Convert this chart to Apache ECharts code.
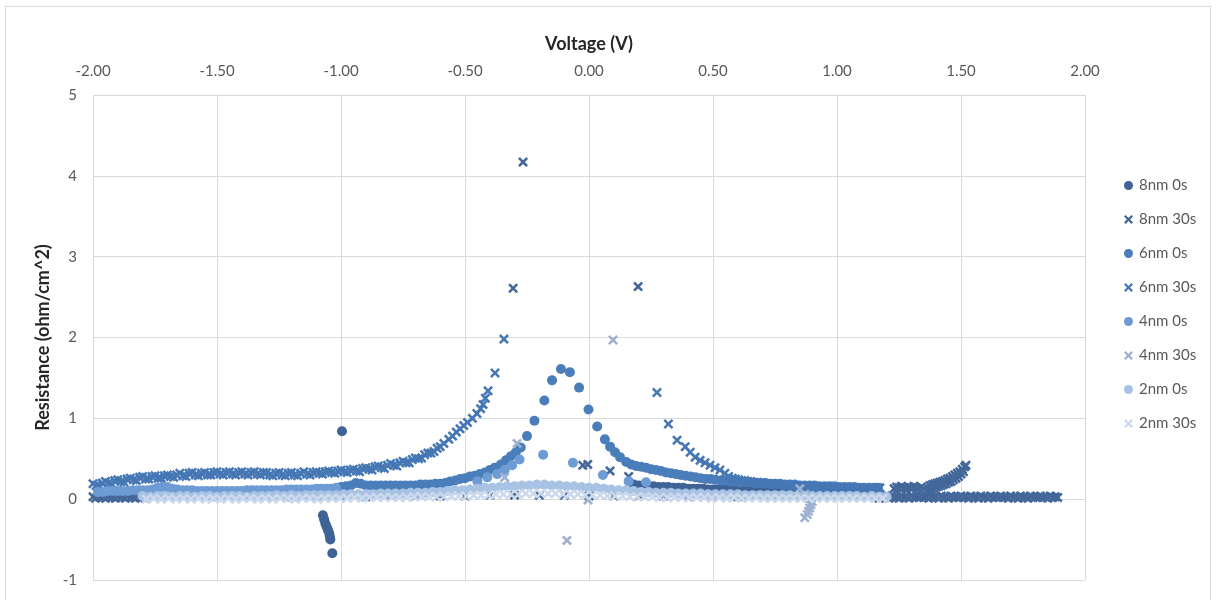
<!DOCTYPE html>
<html>
<head>
<meta charset="utf-8">
<title>Resistance vs Voltage</title>
<script src="https://cdn.jsdelivr.net/npm/echarts@6/dist/echarts.min.js"></script>
<style>
  html, body { margin: 0; padding: 0; background: #ffffff; }
  #chart { width: 1216px; height: 600px; }
</style>
</head>
<body>
<div id="chart"></div>
<script>
// Series names (legend order)
const seriesNames = ['8nm 0s', '8nm 30s', '6nm 0s', '6nm 30s', '4nm 0s', '4nm 30s', '2nm 0s', '2nm 30s'];

// Axis ticks
const voltageTicks = { min: -2, max: 2, step: 0.5 };
const resistanceTicks = { min: -1, max: 5, step: 1 };

// [voltage (V), resistance (ohm/cm^2)] pairs for each sweep
const n8s0 = [
  [-0.996, 0.84],
  [-1.073, -0.20], [-1.068, -0.25], [-1.063, -0.30], [-1.058, -0.34], [-1.053, -0.38],
  [-1.048, -0.42], [-1.045, -0.46], [-1.043, -0.50], [-1.035, -0.67],
  [0.18, 0.18], [0.20, 0.17], [0.22, 0.17], [0.24, 0.16], [0.26, 0.16], [0.28, 0.15],
  [0.30, 0.15], [0.32, 0.15], [0.34, 0.14], [0.36, 0.14], [0.38, 0.14], [0.40, 0.13],
  [0.42, 0.13], [0.44, 0.13], [0.46, 0.13], [0.48, 0.12], [0.50, 0.12], [0.52, 0.12],
  [0.54, 0.12], [0.56, 0.12], [0.58, 0.11], [0.60, 0.11], [0.62, 0.11], [0.64, 0.11],
  [0.66, 0.11], [0.68, 0.11], [0.70, 0.10], [0.72, 0.10], [0.74, 0.10], [0.76, 0.10],
  [0.78, 0.10], [0.80, 0.10], [0.82, 0.10], [0.84, 0.10], [0.86, 0.09], [0.88, 0.09],
  [0.90, 0.09], [0.92, 0.09], [0.94, 0.09], [0.96, 0.09], [0.98, 0.09], [1.00, 0.09],
  [1.02, 0.09], [1.04, 0.09], [1.06, 0.09], [1.08, 0.09], [1.10, 0.09], [1.12, 0.09],
  [1.14, 0.09], [1.16, 0.09]
];

const n8s30 = [
  [-2.00, 0.03], [-1.99, 0.01], [-1.98, 0.04], [-1.97, 0.02], [-1.96, 0.03], [-1.95, 0.01],
  [-1.94, 0.04], [-1.93, 0.02], [-1.92, 0.03], [-1.91, 0.01], [-1.90, 0.04], [-1.89, 0.02],
  [-1.88, 0.03], [-1.87, 0.01], [-1.86, 0.04], [-1.85, 0.02], [-1.84, 0.03], [-1.83, 0.01],
  [-1.82, 0.04], [-1.81, 0.02], [-1.80, 0.03], [-1.79, 0.01], [-1.78, 0.04],
  [-1.70, 0.03], [-1.60, 0.03], [-1.50, 0.03], [-1.40, 0.03], [-1.30, 0.03], [-1.20, 0.03],
  [-1.10, 0.03], [-1.00, 0.03], [-0.90, 0.03], [-0.80, 0.04], [-0.70, 0.04], [-0.60, 0.04],
  [-0.50, 0.04], [-0.40, 0.05], [-0.30, 0.05], [-0.20, 0.05], [-0.10, 0.05], [0.00, 0.04],
  [0.10, 0.04], [0.20, 0.04], [0.30, 0.04], [0.40, 0.03], [0.50, 0.03], [0.60, 0.03],
  [0.70, 0.03], [0.80, 0.03], [0.90, 0.03], [1.00, 0.03], [1.10, 0.03],
  [1.16, 0.03], [1.17, 0.01], [1.18, 0.04], [1.19, 0.02], [1.20, 0.03], [1.21, 0.01],
  [1.22, 0.04], [1.23, 0.02], [1.24, 0.03], [1.25, 0.01], [1.26, 0.04], [1.27, 0.02],
  [1.28, 0.03], [1.29, 0.01], [1.30, 0.04], [1.31, 0.02], [1.32, 0.03], [1.33, 0.02],
  [1.34, 0.04], [1.35, 0.02], [1.36, 0.03], [1.37, 0.01], [1.38, 0.04], [1.39, 0.02],
  [1.40, 0.03], [1.41, 0.01], [1.42, 0.04], [1.43, 0.02], [1.44, 0.03], [1.45, 0.01],
  [1.46, 0.04], [1.47, 0.02], [1.48, 0.03], [1.49, 0.02], [1.50, 0.04], [1.51, 0.02],
  [1.52, 0.03], [1.53, 0.01], [1.54, 0.04], [1.55, 0.02], [1.56, 0.03], [1.57, 0.01],
  [1.58, 0.04], [1.59, 0.02], [1.60, 0.03], [1.61, 0.01], [1.62, 0.04], [1.63, 0.02],
  [1.64, 0.03], [1.65, 0.02], [1.66, 0.04], [1.67, 0.02], [1.68, 0.03], [1.69, 0.01],
  [1.70, 0.04], [1.71, 0.02], [1.72, 0.03], [1.73, 0.01], [1.74, 0.04], [1.75, 0.02],
  [1.76, 0.03], [1.77, 0.01], [1.78, 0.04], [1.79, 0.02], [1.80, 0.03], [1.81, 0.02],
  [1.82, 0.04], [1.83, 0.02], [1.84, 0.03], [1.85, 0.01], [1.86, 0.04], [1.87, 0.02],
  [1.88, 0.03], [1.89, 0.02],
  [-0.266, 4.17], [-0.306, 2.61], [0.198, 2.63],
  [-0.025, 0.42], [-0.005, 0.43], [0.085, 0.35], [0.16, 0.28],
  [1.23, 0.13], [1.24, 0.15], [1.25, 0.14], [1.26, 0.16], [1.27, 0.14], [1.28, 0.13],
  [1.29, 0.15], [1.30, 0.14], [1.31, 0.16], [1.32, 0.14], [1.33, 0.13], [1.34, 0.15], [1.35, 0.13],
  [1.375, 0.17], [1.385, 0.18], [1.395, 0.19], [1.405, 0.20], [1.415, 0.21], [1.425, 0.22],
  [1.435, 0.23], [1.445, 0.25], [1.455, 0.26], [1.465, 0.28], [1.475, 0.30], [1.485, 0.32],
  [1.495, 0.34], [1.505, 0.37], [1.515, 0.40], [1.52, 0.42],
  [1.37, 0.12], [1.38, 0.13], [1.39, 0.14], [1.40, 0.15], [1.41, 0.16], [1.42, 0.17],
  [1.43, 0.18], [1.44, 0.19], [1.45, 0.21], [1.46, 0.22], [1.47, 0.24], [1.48, 0.26],
  [1.49, 0.28], [1.50, 0.31], [1.51, 0.34]
];

const n6s0 = [
  [-1.00, 0.15], [-0.98, 0.16], [-0.96, 0.17], [-0.94, 0.20], [-0.92, 0.19], [-0.90, 0.17],
  [-0.88, 0.17], [-0.86, 0.17], [-0.84, 0.17], [-0.82, 0.17], [-0.80, 0.17], [-0.78, 0.17],
  [-0.76, 0.17], [-0.74, 0.17], [-0.72, 0.17], [-0.70, 0.17], [-0.68, 0.18], [-0.66, 0.18],
  [-0.64, 0.18], [-0.62, 0.19], [-0.60, 0.19], [-0.58, 0.20], [-0.56, 0.22], [-0.54, 0.23],
  [-0.52, 0.25], [-0.50, 0.26], [-0.48, 0.28], [-0.46, 0.29], [-0.44, 0.31], [-0.42, 0.33],
  [-0.40, 0.36], [-0.38, 0.39], [-0.355, 0.43], [-0.335, 0.48], [-0.315, 0.53], [-0.295, 0.58],
  [-0.275, 0.64], [-0.25, 0.78], [-0.22, 0.97], [-0.18, 1.22], [-0.149, 1.47], [-0.113, 1.61],
  [-0.077, 1.57], [-0.040, 1.38], [-0.002, 1.11], [0.033, 0.90], [0.064, 0.74], [0.085, 0.65],
  [0.105, 0.58], [0.125, 0.52],
  [0.15, 0.46], [0.17, 0.43], [0.19, 0.41], [0.21, 0.40], [0.23, 0.39], [0.25, 0.37],
  [0.27, 0.36], [0.29, 0.35], [0.31, 0.33], [0.33, 0.32], [0.35, 0.31], [0.37, 0.30],
  [0.39, 0.29], [0.41, 0.28], [0.43, 0.27], [0.45, 0.26], [0.47, 0.25], [0.49, 0.25],
  [0.51, 0.24], [0.53, 0.23], [0.55, 0.23], [0.57, 0.22], [0.59, 0.22], [0.61, 0.21],
  [0.63, 0.21], [0.65, 0.21], [0.67, 0.20], [0.69, 0.20], [0.71, 0.20], [0.73, 0.19],
  [0.75, 0.19], [0.77, 0.19], [0.79, 0.18], [0.81, 0.18], [0.83, 0.18], [0.85, 0.17],
  [0.87, 0.17], [0.89, 0.17], [0.91, 0.17], [0.93, 0.16], [0.95, 0.16], [0.97, 0.16],
  [0.99, 0.16], [1.01, 0.15], [1.03, 0.15], [1.05, 0.15], [1.07, 0.15], [1.09, 0.14],
  [1.11, 0.14], [1.13, 0.14], [1.15, 0.14], [1.165, 0.14]
];

const n6s30 = [
  [-2.0000, 0.19], [-1.9875, 0.17], [-1.9750, 0.17], [-1.9625, 0.20], [-1.9500, 0.22], [-1.9375, 0.20],
  [-1.9250, 0.19], [-1.9125, 0.23], [-1.9000, 0.24], [-1.8875, 0.22], [-1.8750, 0.21], [-1.8625, 0.25],
  [-1.8500, 0.26], [-1.8375, 0.24], [-1.8250, 0.23], [-1.8125, 0.27], [-1.8000, 0.28], [-1.7875, 0.25],
  [-1.7750, 0.25], [-1.7625, 0.28], [-1.7500, 0.29], [-1.7375, 0.26], [-1.7250, 0.26], [-1.7125, 0.29],
  [-1.7000, 0.30], [-1.6875, 0.28], [-1.6750, 0.27], [-1.6625, 0.30], [-1.6500, 0.32], [-1.6375, 0.29],
  [-1.6250, 0.28], [-1.6125, 0.32], [-1.6000, 0.33], [-1.5875, 0.30], [-1.5750, 0.29], [-1.5625, 0.32],
  [-1.5500, 0.33], [-1.5375, 0.30], [-1.5250, 0.30], [-1.5125, 0.33], [-1.5000, 0.34], [-1.4875, 0.31],
  [-1.4750, 0.30], [-1.4625, 0.33], [-1.4500, 0.34], [-1.4375, 0.31], [-1.4250, 0.30], [-1.4125, 0.33],
  [-1.4000, 0.34], [-1.3875, 0.31], [-1.3750, 0.30], [-1.3625, 0.33], [-1.3500, 0.34], [-1.3375, 0.31],
  [-1.3250, 0.30], [-1.3125, 0.33], [-1.3000, 0.33], [-1.2875, 0.30], [-1.2750, 0.29], [-1.2625, 0.32],
  [-1.2500, 0.33], [-1.2375, 0.30], [-1.2250, 0.29], [-1.2125, 0.32], [-1.2000, 0.33], [-1.1875, 0.30],
  [-1.1750, 0.29], [-1.1625, 0.32], [-1.1500, 0.34], [-1.1375, 0.31], [-1.1250, 0.30], [-1.1125, 0.33],
  [-1.1000, 0.34], [-1.0875, 0.32], [-1.0750, 0.31], [-1.0625, 0.34], [-1.0500, 0.35], [-1.0375, 0.33],
  [-1.0250, 0.32], [-1.0125, 0.35], [-1.0000, 0.36], [-0.9875, 0.34], [-0.9750, 0.33], [-0.9625, 0.36],
  [-0.9500, 0.37], [-0.9375, 0.35], [-0.9250, 0.34], [-0.9125, 0.38], [-0.9000, 0.39], [-0.8875, 0.37],
  [-0.8750, 0.36], [-0.8625, 0.40], [-0.8500, 0.41], [-0.8375, 0.39], [-0.8250, 0.38], [-0.8125, 0.42],
  [-0.8000, 0.44], [-0.7875, 0.42], [-0.7750, 0.41], [-0.7625, 0.45], [-0.7500, 0.47], [-0.7375, 0.45],
  [-0.7250, 0.45], [-0.7125, 0.49], [-0.7000, 0.51], [-0.6875, 0.50], [-0.6750, 0.51], [-0.6625, 0.55],
  [-0.6500, 0.57], [-0.6375, 0.57], [-0.6250, 0.59], [-0.6125, 0.63], [-0.6000, 0.65],
  [-0.585, 0.69], [-0.565, 0.74], [-0.550, 0.78], [-0.535, 0.83], [-0.520, 0.87], [-0.505, 0.91],
  [-0.490, 0.95], [-0.470, 1.00], [-0.452, 1.06], [-0.437, 1.12], [-0.427, 1.17], [-0.418, 1.25],
  [-0.407, 1.34], [-0.379, 1.56], [-0.343, 1.98],
  [0.274, 1.32], [0.320, 0.93], [0.355, 0.73], [0.388, 0.65], [0.408, 0.58], [0.428, 0.52],
  [0.448, 0.48], [0.468, 0.45], [0.488, 0.42], [0.508, 0.39], [0.528, 0.36], [0.548, 0.32],
  [0.563, 0.28], [0.578, 0.26], [0.590, 0.25], [0.603, 0.24], [0.615, 0.23], [0.628, 0.23],
  [0.640, 0.22], [0.653, 0.22], [0.665, 0.21], [0.678, 0.21], [0.690, 0.20], [0.703, 0.20],
  [0.715, 0.19], [0.728, 0.19], [0.740, 0.19], [0.753, 0.18], [0.765, 0.18], [0.778, 0.18],
  [0.790, 0.17], [0.803, 0.17], [0.815, 0.17], [0.828, 0.17], [0.840, 0.16], [0.853, 0.16],
  [0.865, 0.16], [0.878, 0.16], [0.890, 0.16], [0.903, 0.15], [0.915, 0.15], [0.928, 0.15],
  [0.940, 0.15], [0.953, 0.15], [0.965, 0.15], [0.978, 0.14], [0.990, 0.14], [1.003, 0.14],
  [1.015, 0.14], [1.028, 0.14], [1.040, 0.14], [1.053, 0.14], [1.065, 0.14], [1.078, 0.13],
  [1.090, 0.14], [1.103, 0.13], [1.115, 0.14], [1.128, 0.13], [1.140, 0.14], [1.153, 0.13],
  [1.165, 0.14], [1.173, 0.14]
];

const n4s0 = [
  [-1.98, 0.09], [-1.96, 0.09], [-1.94, 0.10], [-1.92, 0.10], [-1.90, 0.10], [-1.88, 0.10],
  [-1.86, 0.10], [-1.84, 0.11], [-1.82, 0.11], [-1.80, 0.11], [-1.78, 0.11], [-1.76, 0.12],
  [-1.74, 0.14], [-1.72, 0.15], [-1.70, 0.15], [-1.68, 0.13], [-1.66, 0.12], [-1.64, 0.11],
  [-1.62, 0.11], [-1.60, 0.11], [-1.58, 0.10], [-1.56, 0.10], [-1.54, 0.10], [-1.52, 0.10],
  [-1.50, 0.10], [-1.48, 0.10], [-1.46, 0.10], [-1.44, 0.10], [-1.42, 0.10], [-1.40, 0.10],
  [-1.38, 0.11], [-1.36, 0.11], [-1.34, 0.11], [-1.32, 0.11], [-1.30, 0.11], [-1.28, 0.11],
  [-1.26, 0.11], [-1.24, 0.11], [-1.22, 0.12], [-1.20, 0.12], [-1.18, 0.12], [-1.16, 0.12],
  [-1.14, 0.12], [-1.12, 0.12], [-1.10, 0.13], [-1.08, 0.13], [-1.06, 0.13], [-1.04, 0.13],
  [-1.02, 0.14],
  [-0.45, 0.22], [-0.41, 0.27], [-0.37, 0.31], [-0.34, 0.36], [-0.31, 0.42], [-0.28, 0.49],
  [-0.185, 0.55], [-0.065, 0.45], [0.056, 0.30], [0.16, 0.22], [0.23, 0.21]
];

const n4s30 = [
  [-0.34, 0.27], [-0.29, 0.69], [-0.089, -0.51], [0.097, 1.97], [-0.004, -0.01],
  [0.85, 0.13], [0.87, 0.06], [0.89, 0.01], [0.90, -0.03], [0.895, -0.07], [0.89, -0.11],
  [0.885, -0.15], [0.88, -0.19], [0.87, -0.23]
];

const n2s0 = [
  [-1.80, 0.04], [-1.77, 0.03], [-1.74, 0.04], [-1.71, 0.04], [-1.68, 0.03], [-1.65, 0.04],
  [-1.62, 0.04], [-1.59, 0.03], [-1.56, 0.04], [-1.53, 0.04], [-1.50, 0.03], [-1.47, 0.04],
  [-1.44, 0.04], [-1.41, 0.04], [-1.38, 0.03], [-1.35, 0.04], [-1.32, 0.04], [-1.29, 0.04],
  [-1.26, 0.05], [-1.23, 0.04], [-1.20, 0.05], [-1.17, 0.04], [-1.14, 0.05], [-1.11, 0.05],
  [-1.08, 0.05], [-1.05, 0.05], [-1.02, 0.05], [-0.99, 0.06], [-0.96, 0.06], [-0.93, 0.06],
  [-0.90, 0.06], [-0.87, 0.06], [-0.84, 0.07], [-0.81, 0.07], [-0.78, 0.07], [-0.75, 0.07],
  [-0.72, 0.08], [-0.69, 0.08], [-0.66, 0.08], [-0.63, 0.09], [-0.60, 0.09], [-0.57, 0.10],
  [-0.54, 0.11], [-0.51, 0.11], [-0.48, 0.12], [-0.45, 0.13], [-0.42, 0.14], [-0.39, 0.14],
  [-0.36, 0.15], [-0.33, 0.16], [-0.30, 0.16], [-0.27, 0.17], [-0.24, 0.17], [-0.21, 0.18],
  [-0.18, 0.18], [-0.15, 0.17], [-0.12, 0.17], [-0.09, 0.16], [-0.06, 0.16], [-0.03, 0.15],
  [0.00, 0.14], [0.03, 0.14], [0.06, 0.13], [0.09, 0.12], [0.12, 0.11], [0.15, 0.11],
  [0.18, 0.10], [0.21, 0.09], [0.24, 0.09], [0.27, 0.08], [0.30, 0.08], [0.33, 0.08],
  [0.36, 0.07], [0.39, 0.07], [0.42, 0.07], [0.45, 0.07], [0.48, 0.06], [0.51, 0.06],
  [0.54, 0.06], [0.57, 0.06], [0.60, 0.06], [0.63, 0.05], [0.66, 0.05], [0.69, 0.05],
  [0.72, 0.05], [0.75, 0.05], [0.78, 0.05], [0.81, 0.05], [0.84, 0.04], [0.87, 0.04],
  [0.90, 0.04], [0.93, 0.04], [0.96, 0.04], [0.99, 0.04], [1.02, 0.04], [1.05, 0.04],
  [1.08, 0.04], [1.11, 0.03], [1.14, 0.04], [1.17, 0.03], [1.20, 0.03]
];

const n2s30 = [
  [-1.785, 0.00], [-1.755, 0.01], [-1.725, 0.00], [-1.695, 0.01], [-1.665, 0.00], [-1.635, 0.01],
  [-1.605, 0.00], [-1.575, 0.01], [-1.545, 0.00], [-1.515, 0.01], [-1.485, 0.00], [-1.455, 0.01],
  [-1.425, 0.00], [-1.395, 0.01], [-1.365, 0.01], [-1.335, 0.00], [-1.305, 0.01], [-1.275, 0.00],
  [-1.245, 0.01], [-1.215, 0.01], [-1.185, 0.00], [-1.155, 0.01], [-1.125, 0.01], [-1.095, 0.00],
  [-1.065, 0.01], [-1.035, 0.01], [-1.005, 0.01], [-0.975, 0.01], [-0.945, 0.02], [-0.915, 0.01],
  [-0.885, 0.02], [-0.855, 0.02], [-0.825, 0.02], [-0.795, 0.02], [-0.765, 0.02], [-0.735, 0.02],
  [-0.705, 0.03], [-0.675, 0.03], [-0.645, 0.03], [-0.615, 0.03], [-0.585, 0.03], [-0.555, 0.04],
  [-0.525, 0.04], [-0.495, 0.04], [-0.465, 0.05], [-0.435, 0.05], [-0.405, 0.05], [-0.375, 0.06],
  [-0.345, 0.06], [-0.315, 0.06], [-0.285, 0.06], [-0.255, 0.07], [-0.225, 0.07], [-0.195, 0.07],
  [-0.165, 0.07], [-0.135, 0.07], [-0.105, 0.06], [-0.075, 0.06], [-0.045, 0.06], [-0.015, 0.05],
  [0.015, 0.05], [0.045, 0.05], [0.075, 0.04], [0.105, 0.04], [0.135, 0.04], [0.165, 0.03],
  [0.195, 0.03], [0.225, 0.03], [0.255, 0.03], [0.285, 0.02], [0.315, 0.02], [0.345, 0.02],
  [0.375, 0.02], [0.405, 0.02], [0.435, 0.02], [0.465, 0.02], [0.495, 0.01], [0.525, 0.02],
  [0.555, 0.01], [0.585, 0.02], [0.615, 0.01], [0.645, 0.01], [0.675, 0.02], [0.705, 0.01],
  [0.735, 0.01], [0.765, 0.01], [0.795, 0.01], [0.825, 0.01], [0.855, 0.01], [0.885, 0.01],
  [0.915, 0.01], [0.945, 0.01], [0.975, 0.01], [1.005, 0.01], [1.035, 0.01], [1.065, 0.01],
  [1.095, 0.01], [1.125, 0.01], [1.155, 0.01], [1.185, 0.01]
];

// Marker shapes: filled dot, and a filled diagonal cross
const DOT = 'circle';
const CROSS = 'path://M0,1.8L1.8,0L5,3.2L8.2,0L10,1.8L6.8,5L10,8.2L8.2,10L5,6.8L1.8,10L0,8.2L3.2,5Z';

const seriesData = [n8s0, n8s30, n6s0, n6s30, n4s0, n4s30, n2s0, n2s30];
const seriesSymbols = [DOT, CROSS, DOT, CROSS, DOT, CROSS, DOT, CROSS];
const seriesColors = ['#3f6396', '#44679a', '#4a7ebb', '#4677b5', '#6d9bd4', '#9db1cf', '#a8c2e4', '#ccd9ec'];

const FONT = 'Lato, "Open Sans", "Liberation Sans", sans-serif';

const chart = echarts.init(document.getElementById('chart'), null, { renderer: 'canvas' });

const series = seriesNames.map((name, i) => ({
  name: name,
  type: 'scatter',
  data: seriesData[i],
  symbol: seriesSymbols[i],
  symbolSize: 10,
  itemStyle: { color: seriesColors[i], opacity: 1 },
  emphasis: { disabled: true },
  z: 2
}));

chart.setOption({
  animation: false,
  backgroundColor: '#ffffff',
  textStyle: { fontFamily: FONT },
  graphic: [{
    type: 'rect',
    silent: true,
    shape: { x: 5.5, y: 6.5, width: 1205, height: 600 },
    style: { fill: 'none', stroke: '#d9d9d9', lineWidth: 1 }
  }],
  grid: { left: 93, right: 131, top: 95, bottom: 20, containLabel: false },
  legend: {
    orient: 'vertical',
    left: 1119,
    top: 173,
    itemWidth: 9,
    itemHeight: 9,
    itemGap: 19,
    textStyle: { fontFamily: FONT, fontSize: 15, color: '#595959', padding: [0, 0, 0, 1] },
    data: seriesNames
  },
  xAxis: {
    type: 'value',
    position: 'top',
    min: voltageTicks.min,
    max: voltageTicks.max,
    interval: voltageTicks.step,
    name: 'Voltage (V)',
    nameLocation: 'middle',
    nameGap: 42,
    nameTextStyle: { fontFamily: FONT, fontSize: 18, fontWeight: 'bold', color: '#262626' },
    axisLine: { show: false },
    axisTick: { show: false },
    axisLabel: {
      margin: 16,
      fontFamily: FONT,
      fontSize: 15,
      color: '#595959',
      formatter: (v) => v.toFixed(2)
    },
    splitLine: { show: true, lineStyle: { color: '#d9d9d9', width: 1 } }
  },
  yAxis: {
    type: 'value',
    min: resistanceTicks.min,
    max: resistanceTicks.max,
    interval: resistanceTicks.step,
    name: 'Resistance (ohm/cm^2)',
    nameLocation: 'middle',
    nameRotate: 90,
    nameGap: 40,
    nameTextStyle: { fontFamily: FONT, fontSize: 18, fontWeight: 'bold', color: '#262626' },
    axisLine: { show: false },
    axisTick: { show: false },
    axisLabel: { margin: 16, fontFamily: FONT, fontSize: 15, color: '#595959' },
    splitLine: { show: true, lineStyle: { color: '#d9d9d9', width: 1 } }
  },
  series: series
});
</script>
</body>
</html>
